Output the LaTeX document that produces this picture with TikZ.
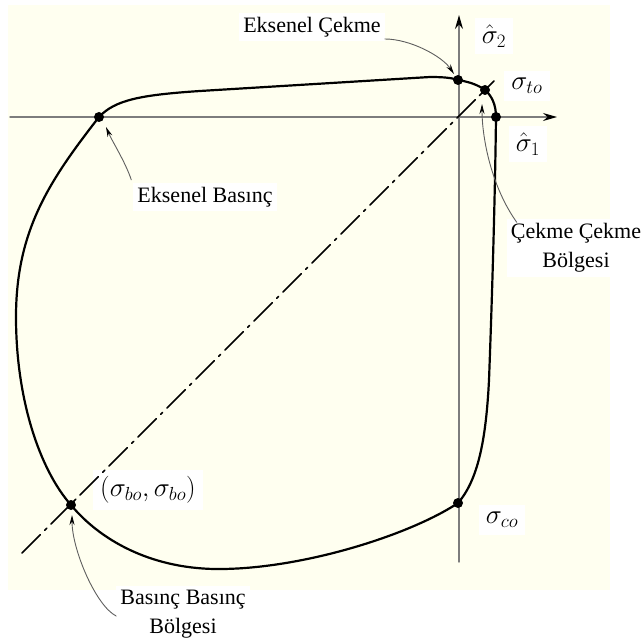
\RequirePackage{fix-cm}
\documentclass[tikz,border=0pt]{standalone}
\usepackage{fontspec}
\setmainfont{Liberation Serif}
\usetikzlibrary{arrows.meta}
\definecolor{zemin}{RGB}{255,255,240}
\definecolor{eksen}{RGB}{125,125,125}
\definecolor{okgri}{RGB}{95,95,95}
\tikzset{
  etiket/.style={fill=white,inner sep=4pt,align=center,font=\fontsize{22}{29}\selectfont},
  mletiket/.style={fill=white,inner sep=7pt,font=\fontsize{27}{32}\selectfont},
  okcizgi/.style={draw=okgri,line width=.9pt,-{Stealth[length=10pt,width=5pt,color=black]}},
  eksencizgi/.style={draw=eksen,line width=1.4pt,-{Stealth[length=14pt,width=8pt,color=black]}},
}
\begin{document}
\begin{tikzpicture}[x=1pt,y=-1pt,line join=round,line cap=round]
\useasboundingbox (0,0) rectangle (644,644);
\fill[zemin] (8,5) rectangle (610,590);
\path
(99,117)coordinate(EB)
(458,80)coordinate(EC)
(485,90)coordinate(TO)
(496,117)coordinate(S1)
(458,503)coordinate(CO)
(71,505)coordinate(BO)
(10,117)coordinate(XS)
(557,117)coordinate(XE)
(459,562)coordinate(YS)
(459,15)coordinate(YE)
(22,553)coordinate(DS)
(494,81)coordinate(DE);
% etiketler
\node[etiket] (lEC) at (312,27) {Eksenel Çekme};
\node[etiket] (lEB) at (205,197) {Eksenel Basınç};
\node[etiket] (lCC) at (576,248) {Çekme Çekme\\Bölgesi};
\node[etiket] (lBB) at (183,614) {Basınç Basınç\\Bölgesi};
\node[mletiket] (lS2) at (494,36) {$\hat{\sigma}_2$};
\node[mletiket] (lS1) at (528,144) {$\hat{\sigma}_1$};
\node[mletiket] (lTO) at (527,86) {$\sigma_{to}$};
\node[mletiket] (lCO) at (502,520) {$\sigma_{co}$};
\node[mletiket] (lBO) at (148,490) {$(\sigma_{bo},\sigma_{bo})$};
% eksenler
\draw[eksencizgi] (XS)--(XE);
\draw[eksencizgi] (YS)--(YE);
\draw[line width=1.5pt,dash pattern=on 26pt off 6pt on 3pt off 6pt] (DS)--(DE);
% akma egrisi
\draw[line width=2.2pt] (EB) .. controls (115,100) and (140,95) .. (200,91)
  -- (430,77) .. controls (445,77) and (452,78) .. (EC)
  .. controls (470,82) and (478,85) .. (TO)
  .. controls (492,96) and (496,105) .. (S1)
  .. controls (495,200) and (492,300) .. (489,380)
  .. controls (486,440) and (478,480) .. (CO)
  .. controls (410,535) and (300,570) .. (215,569)
  .. controls (150,568) and (100,540) .. (BO)
  .. controls (40,470) and (16,400) .. (16,317)
  .. controls (16,230) and (50,180) .. (EB) -- cycle;
\foreach \p in {EB,EC,TO,S1,CO,BO}
\fill (\p) circle (5pt);
% oklar
\draw[okcizgi] ([xshift=-2pt,yshift=3pt]lEB.north west) .. controls +(-6,-18) and +(6,14) .. ([shift={(7pt,-10pt)}]EB);
\draw[okcizgi] ([yshift=-12pt]lEC.east) .. controls +(25,0) and +(-12,-18) .. ([shift={(-4pt,6pt)}]EC);
\draw[okcizgi] ([xshift=10pt,yshift=-3pt]lCC.north west) .. controls +(-25,-35) and +(0,35) .. ([shift={(-3pt,-14pt)}]TO);
\draw[okcizgi] ([yshift=-2pt]lBB.west) .. controls +(-20,-10) and +(0,35) .. ([shift={(1pt,-10pt)}]BO);
\end{tikzpicture}
\end{document}
